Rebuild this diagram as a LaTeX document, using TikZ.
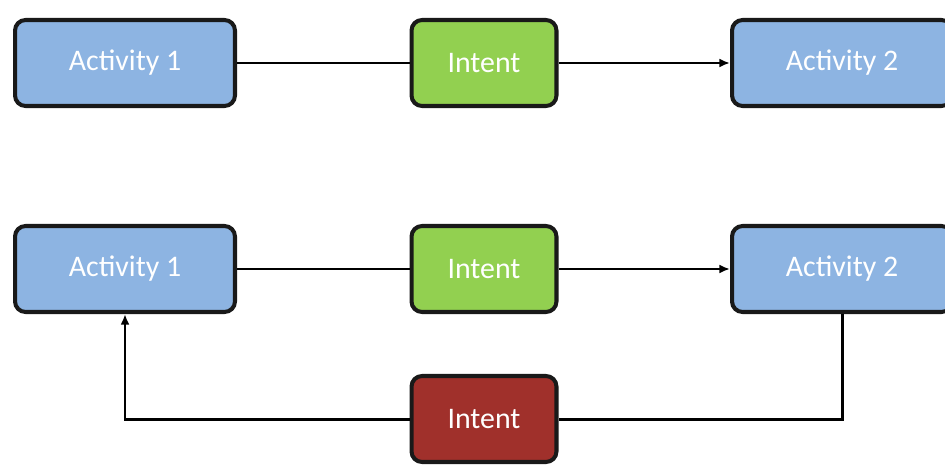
\documentclass[tikz,border=0pt]{standalone}
\usepackage{fontspec}
\setmainfont{Carlito}
\usetikzlibrary{arrows.meta}
\definecolor{actblue}{HTML}{8DB4E2}
\definecolor{intgreen}{HTML}{92D050}
\definecolor{intred}{HTML}{A0302B}
\begin{document}
\begin{tikzpicture}[x=0.02cm,y=-0.02cm,
     box/.style={draw=black!90,line width=2.3pt,rounded corners=6pt,text=white,
       font=\fontsize{17}{20}\selectfont,minimum height=1.72cm,inner sep=0pt},
     act/.style={box,fill=actblue,minimum width=4.4cm},
     intent/.style={box,minimum width=2.9cm},
     link/.style={line width=1.7pt,black},
     tip/.style={-{Latex[length=6pt,width=5pt]}}]
     \useasboundingbox (0,0) rectangle (945,466);
     % first row
     \node[act] (actA) at (125,63){Activity 1};
     \node[intent,fill=intgreen] (intA) at (484,63){Intent};
     \node[act] (actB) at (842,63){Activity 2};
     \draw[link] (actA) -- (intA);
     \draw[link,tip] (intA) -- (actB);
     % second row
     \node[act] (actC) at (125,269){Activity 1};
     \node[intent,fill=intgreen] (intB) at (484,269){Intent};
     \node[act] (actD) at (842,269){Activity 2};
     \node[intent,fill=intred] (intC) at (484,419){Intent};
     \draw[link] (actC) -- (intB);
     \draw[link,tip] (intB) -- (actD);
     \draw[link] (actD.south) |- (intC.east);
     \draw[link,tip] (intC.west) -| (actC.south);
\end{tikzpicture}
\end{document}
